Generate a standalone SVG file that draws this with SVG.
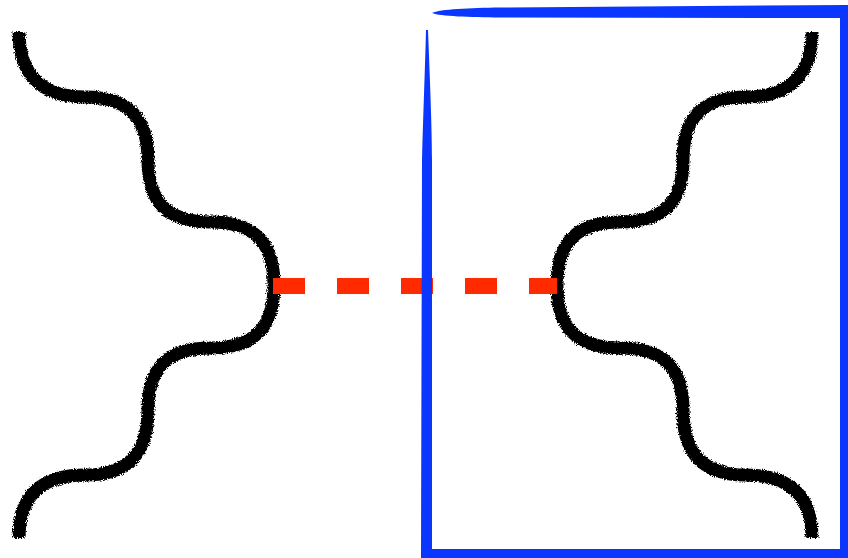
<svg xmlns="http://www.w3.org/2000/svg" width="848" height="558" viewBox="0 0 848 558">
  <style>
    .wave { fill: none; stroke: #000; stroke-width: 13; stroke-linecap: butt; filter: url(#rough); }
    .dash { fill: none; stroke: #ff2a00; stroke-width: 16; stroke-dasharray: 32 32; }
    .box { fill: #0a36ff; stroke: none; }
  </style>
  <defs>
    <filter id="rough" x="-10%" y="-5%" width="120%" height="110%">
      <feTurbulence type="fractalNoise" baseFrequency="0.9" numOctaves="2" seed="3" result="n"/>
      <feDisplacementMap in="SourceGraphic" in2="n" scale="5" xChannelSelector="R" yChannelSelector="G"/>
    </filter>
  </defs>
  <rect width="848" height="558" fill="#fff"/>
  <g id="left-line">
    <path class="wave" d="M19,32 C19,75 42,97 85,97 C128,97 148,117 148,160 C148,203 168,222 211,222 C254,222 274,242 274,285 C274,328 254,348 211,348 C168,348 148,367 148,410 C148,453 128,475 85,475 C42,475 19,495 19,538"/>
  </g>
  <g id="right-line">
    <path class="wave" d="M812,32 C812,75 789,97 746,97 C703,97 683,117 683,160 C683,203 663,222 620,222 C577,222 557,242 557,285 C557,328 577,348 620,348 C663,348 683,367 683,410 C683,453 703,475 746,475 C789,475 812,495 812,538"/>
  </g>
  <g id="connectors">
    <path class="dash" d="M273,286 L557,286"/>
  </g>
  <g id="box">
    <path class="box" d="M432,13 C440,9 470,8 500,7.5 L848,5 L848,18 L500,17.5 C470,17 440,16.5 432,13 Z"/>
    <rect class="box" x="840" y="5" width="8" height="553"/>
    <rect class="box" x="421" y="549" width="427" height="9"/>
    <path class="box" d="M426,30 L428,30 C430,80 432,130 432,160 L432,558 L421,558 L422,160 C423,120 425,70 426,30 Z"/>
  </g>
</svg>
